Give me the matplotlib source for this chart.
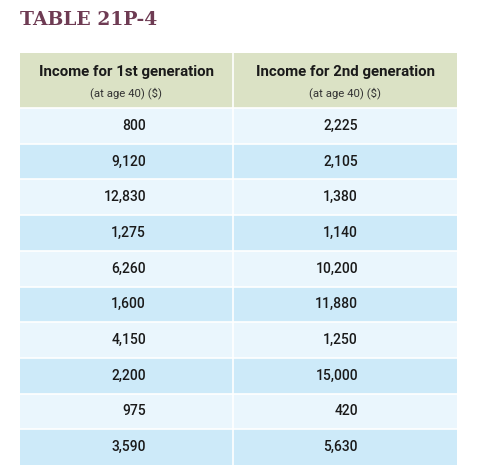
import matplotlib.pyplot as plt
from matplotlib.patches import Rectangle

title = "TABLE 21P-4"
headers = ["Income for 1st generation", "Income for 2nd generation"]
subheader = "(at age 40) ($)"
gen1 = ["800", "9,120", "12,830", "1,275", "6,260", "1,600", "4,150", "2,200", "975", "3,590"]
gen2 = ["2,225", "2,105", "1,380", "1,140", "10,200", "11,880", "1,250", "15,000", "420", "5,630"]

fig = plt.figure(figsize=(4.8, 4.73), dpi=100)
ax = fig.add_axes([0, 0, 1, 1])
ax.set_xlim(0, 480)
ax.set_ylim(473, 0)
ax.axis("off")

left, mid, right = 20, 233, 457
head_top, head_bot = 53, 108
row_h = (465 - head_bot) / len(gen1)

ax.text(20, 20, title, fontsize=13.5, fontweight="heavy", family="DejaVu Serif",
        color="#6e3b53", va="center", ha="left")

# header
ax.add_patch(Rectangle((left, head_top), right - left, head_bot - head_top,
                       facecolor="#dbe2c5", edgecolor="none"))
for i, h in enumerate(headers):
    cx = (left + mid) / 2 if i == 0 else (mid + right) / 2
    ax.text(cx, 72, h, fontsize=10.8, fontweight="bold", family="Roboto",
            ha="center", va="center", color="#1a1a1a")
    ax.text(cx, 93, subheader, fontsize=8.2, family="Roboto",
            ha="center", va="center", color="#333333")

# rows
for r, (a, b) in enumerate(zip(gen1, gen2)):
    y0 = head_bot + r * row_h
    color = "#eaf6fd" if r % 2 == 0 else "#cdeaf9"
    ax.add_patch(Rectangle((left, y0), right - left, row_h,
                           facecolor=color, edgecolor="none"))
    ax.axhline(y0, xmin=left / 480, xmax=right / 480, color="white", lw=1.2)
    cy = y0 + row_h / 2
    ax.text(146, cy, a, fontsize=10, fontweight="medium", family="Roboto",
            ha="right", va="center", color="#1a1a1a")
    ax.text(358, cy, b, fontsize=10, fontweight="medium", family="Roboto",
            ha="right", va="center", color="#1a1a1a")

ax.plot([mid, mid], [head_top, 465], color="white", lw=1.2)

fig.savefig("out.png", dpi=100)
